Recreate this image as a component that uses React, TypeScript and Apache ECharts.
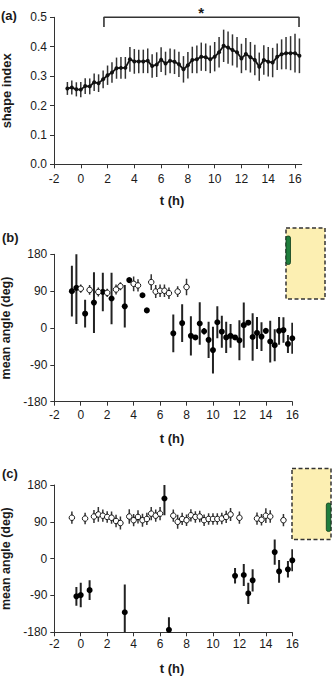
import React, { useEffect, useRef } from "react";
import * as echarts from "echarts";

// ---------- data ----------
const xTicks = [-2, 0, 2, 4, 6, 8, 10, 12, 14, 16];

// (a) shape index over time
const shapeT = [-1, -0.67, -0.33, 0, 0.33, 0.67, 1, 1.33, 1.67, 2, 2.33, 2.67, 3, 3.33, 3.67, 4, 4.33, 4.67, 5, 5.33, 5.67, 6, 6.33, 6.67, 7, 7.33, 7.67, 8, 8.33, 8.67, 9, 9.33, 9.67, 10, 10.33, 10.67, 11, 11.33, 11.67, 12, 12.33, 12.67, 13, 13.33, 13.67, 14, 14.33, 14.67, 15, 15.33, 15.67, 16, 16.33];
const shapeMean = [0.258, 0.261, 0.255, 0.254, 0.266, 0.265, 0.279, 0.276, 0.289, 0.303, 0.312, 0.327, 0.328, 0.328, 0.357, 0.35, 0.35, 0.35, 0.352, 0.334, 0.339, 0.356, 0.343, 0.352, 0.349, 0.34, 0.323, 0.337, 0.355, 0.357, 0.366, 0.364, 0.357, 0.366, 0.381, 0.403, 0.397, 0.389, 0.381, 0.36, 0.375, 0.364, 0.355, 0.332, 0.355, 0.349, 0.346, 0.366, 0.374, 0.378, 0.378, 0.378, 0.369];
const shapeErr = [0.022, 0.024, 0.024, 0.026, 0.027, 0.027, 0.03, 0.03, 0.03, 0.033, 0.035, 0.036, 0.037, 0.037, 0.042, 0.042, 0.04, 0.04, 0.042, 0.04, 0.042, 0.042, 0.04, 0.042, 0.042, 0.043, 0.045, 0.045, 0.045, 0.047, 0.048, 0.047, 0.047, 0.05, 0.052, 0.055, 0.055, 0.053, 0.052, 0.05, 0.055, 0.052, 0.052, 0.048, 0.05, 0.05, 0.05, 0.045, 0.051, 0.055, 0.058, 0.066, 0.059];
const bracketT = [1.73, 16.3];
const bracketY = [0.467, 0.5];

// (b) mean angle, filled and open
const bFilledT = [-0.67, -0.33, 0.33, 1.0, 1.67, 2.33, 3.33, 3.67, 4.67, 5.0, 7.0, 7.67, 8.33, 8.67, 9.0, 9.33, 9.67, 10.0, 10.33, 10.67, 11.0, 11.33, 11.67, 12.0, 12.33, 12.67, 13.0, 13.33, 13.67, 14.0, 14.33, 14.67, 15.0, 15.33, 15.67, 16.0];
const bFilledMean = [90, 98, 35, 62, 88, 72, 53, 117, 80, 43, -13, 12, -19, -23, 11, -8, -29, -54, 14, -9, -23, -19, -23, -30, 7, 13, -22, -12, -21, -7, -33, -42, -7, -5, -39, -25];
const bFilledErr = [62, 88, 34, 74, 47, 63, 52, 3, 4, 3, 46, 46, 48, 4, 52, 8, 44, 57, 39, 39, 38, 29, 4, 49, 55, 4, 58, 39, 35, 4, 51, 39, 34, 31, 22, 38];
const bOpenT = [0.0, 0.67, 1.33, 2.0, 2.67, 3.0, 4.0, 4.33, 5.33, 5.67, 6.0, 6.33, 6.67, 7.33, 8.0];
const bOpenMean = [96, 93, 88, 86, 94, 102, 108, 104, 112, 89, 91, 91, 85, 89, 100];
const bOpenErr = [10, 12, 11, 10, 12, 10, 18, 15, 19, 16, 15, 15, 14, 13, 20];

// (c) mean angle, filled and open
const cFilledT = [-0.33, 0.0, 0.67, 3.33, 6.33, 6.67, 11.67, 12.33, 12.67, 13.0, 14.67, 15.0, 15.67, 16.0];
const cFilledMean = [-92, -89, -77, -131, 147, -174, -42, -40, -85, -53, 16, -31, -26, -4];
const cFilledErr = [23, 30, 24, 68, 41, 31, 19, 27, 26, 27, 31, 28, 20, 27];
const cOpenT = [-0.67, 0.33, 1.0, 1.33, 1.67, 2.0, 2.33, 2.67, 3.0, 3.67, 4.0, 4.33, 4.67, 5.0, 5.33, 5.67, 6.0, 7.0, 7.33, 7.67, 8.0, 8.33, 8.67, 9.0, 9.33, 9.67, 10.0, 10.33, 10.67, 11.0, 11.33, 12.0, 13.33, 13.67, 14.0, 14.33, 15.33];
const cOpenMean = [100, 98, 103, 108, 105, 102, 100, 92, 87, 103, 94, 102, 94, 97, 110, 105, 110, 105, 90, 97, 94, 106, 102, 103, 94, 97, 97, 97, 98, 102, 108, 100, 98, 95, 105, 103, 94];
const cOpenErr = [15, 14, 16, 18, 15, 14, 15, 15, 16, 18, 15, 16, 16, 15, 16, 15, 16, 15, 17, 15, 14, 15, 14, 14, 14, 14, 14, 14, 14, 15, 16, 15, 15, 14, 18, 15, 15];

// ---------- layout ----------
const FONT = "'Liberation Sans', Arial, Helvetica, sans-serif";
const TXT = "#1a1a1a";
const AX = "#333";

const gridA = { left: 54, top: 17.3, width: 247.7, height: 147 };
const gridB = { left: 54.3, top: 254.3, width: 238, height: 147.4 };
const gridC = { left: 54.3, top: 485, width: 238, height: 147.3 };
const xMaxA = 16.5;

function zip3(t: number[], m: number[], e: number[]) {
  return t.map((v, i) => [v, m[i], e[i]]);
}

function errBar(color: string, width: number) {
  return (params: any, api: any) => {
    const x = api.value(0);
    const m = api.value(1);
    const e = api.value(2);
    const p1 = api.coord([x, m - e]);
    const p2 = api.coord([x, m + e]);
    return {
      type: "line",
      shape: { x1: p1[0], y1: p1[1], x2: p2[0], y2: p2[1] },
      style: { stroke: color, lineWidth: width },
    };
  };
}

function xAxisCfg(gridIndex: number, max: number, margin: number) {
  return {
    type: "value",
    gridIndex,
    min: -2,
    max,
    interval: 2,
    splitLine: { show: false },
    axisLine: { show: true, onZero: false, lineStyle: { color: AX, width: 1 } },
    axisTick: { show: true, length: 4, lineStyle: { color: AX }, customValues: xTicks },
    axisLabel: { color: TXT, fontSize: 12, fontFamily: FONT, margin, customValues: xTicks },
  };
}

function yAxisCfg(gridIndex: number, min: number, max: number, interval: number, name: string, gap: number, size: number, fmt: (v: number) => string) {
  return {
    type: "value",
    gridIndex,
    min,
    max,
    interval,
    name,
    nameLocation: "middle",
    nameGap: gap,
    nameTextStyle: { color: TXT, fontSize: size, fontWeight: "bold", fontFamily: FONT },
    splitLine: { show: false },
    axisLine: { show: true, onZero: false, lineStyle: { color: AX, width: 1 } },
    axisTick: { show: true, length: 4, lineStyle: { color: AX } },
    axisLabel: { color: TXT, fontSize: 12, fontFamily: FONT, margin: 7, formatter: fmt },
  };
}

function xPixA(t: number) {
  return gridA.left + ((t + 2) / (xMaxA + 2)) * gridA.width;
}

export default function App() {
  const ref = useRef<HTMLDivElement>(null);
  useEffect(() => {
    if (!ref.current) return;
    const chart = echarts.init(ref.current, undefined, { renderer: "svg" });
    const label = (text: string, x: number, y: number, align = "left") => ({
      type: "text",
      x,
      y,
      style: { text, fill: TXT, font: `bold 13px ${FONT}`, textAlign: align, textVerticalAlign: "middle" },
    });
    const option: any = {
      animation: false,
      backgroundColor: "#fff",
      grid: [
        { ...gridA, containLabel: false, outerBoundsMode: "none" },
        { ...gridB, containLabel: false, outerBoundsMode: "none" },
        { ...gridC, containLabel: false, outerBoundsMode: "none" },
      ],
      xAxis: [xAxisCfg(0, xMaxA, 9), xAxisCfg(1, 16, 7), xAxisCfg(2, 16, 6)],
      yAxis: [
        yAxisCfg(0, 0, 0.5, 0.1, "shape index", 41, 13, (v: number) => v.toFixed(1)),
        yAxisCfg(1, -180, 180, 90, "mean angle (deg)", 37, 12.5, (v: number) => String(v)),
        yAxisCfg(2, -180, 180, 90, "mean angle (deg)", 37, 12.5, (v: number) => String(v)),
      ],
      series: [
        // (a)
        {
          type: "custom",
          xAxisIndex: 0,
          yAxisIndex: 0,
          renderItem: errBar("#333", 1.5),
          data: zip3(shapeT, shapeMean, shapeErr),
          encode: { x: 0, y: 1 },
          z: 2,
          silent: true,
        },
        {
          type: "line",
          xAxisIndex: 0,
          yAxisIndex: 0,
          data: shapeT.map((t, i) => [t, shapeMean[i]]),
          symbol: "circle",
          symbolSize: 4,
          showSymbol: true,
          itemStyle: { color: "#111" },
          lineStyle: { color: "#111", width: 1.8 },
          z: 3,
          silent: true,
        },
        {
          type: "line",
          xAxisIndex: 0,
          yAxisIndex: 0,
          data: [
            [bracketT[0], bracketY[0]],
            [bracketT[0], bracketY[1]],
            [bracketT[1], bracketY[1]],
            [bracketT[1], bracketY[0]],
          ],
          symbol: "none",
          clip: false,
          lineStyle: { color: "#333", width: 1.6 },
          z: 3,
          silent: true,
        },
        // (b)
        {
          type: "custom",
          xAxisIndex: 1,
          yAxisIndex: 1,
          renderItem: errBar("#222", 2),
          data: zip3(bFilledT, bFilledMean, bFilledErr),
          encode: { x: 0, y: 1 },
          clip: true,
          z: 2,
          silent: true,
        },
        {
          type: "custom",
          xAxisIndex: 1,
          yAxisIndex: 1,
          renderItem: errBar("#333", 1.5),
          data: zip3(bOpenT, bOpenMean, bOpenErr),
          encode: { x: 0, y: 1 },
          clip: true,
          z: 2,
          silent: true,
        },
        {
          type: "scatter",
          xAxisIndex: 1,
          yAxisIndex: 1,
          data: bFilledT.map((t, i) => [t, bFilledMean[i]]),
          symbol: "circle",
          symbolSize: 6,
          itemStyle: { color: "#000", opacity: 1 },
          z: 3,
          silent: true,
        },
        {
          type: "scatter",
          xAxisIndex: 1,
          yAxisIndex: 1,
          data: bOpenT.map((t, i) => [t, bOpenMean[i]]),
          symbol: "circle",
          symbolSize: 5.5,
          itemStyle: { color: "#fff", borderColor: "#111", borderWidth: 1, opacity: 1 },
          z: 3,
          silent: true,
        },
        // (c)
        {
          type: "custom",
          xAxisIndex: 2,
          yAxisIndex: 2,
          renderItem: errBar("#222", 2),
          data: zip3(cFilledT, cFilledMean, cFilledErr),
          encode: { x: 0, y: 1 },
          clip: true,
          z: 2,
          silent: true,
        },
        {
          type: "custom",
          xAxisIndex: 2,
          yAxisIndex: 2,
          renderItem: errBar("#333", 1.5),
          data: zip3(cOpenT, cOpenMean, cOpenErr),
          encode: { x: 0, y: 1 },
          clip: true,
          z: 2,
          silent: true,
        },
        {
          type: "scatter",
          xAxisIndex: 2,
          yAxisIndex: 2,
          data: cFilledT.map((t, i) => [t, cFilledMean[i]]),
          symbol: "circle",
          symbolSize: 6,
          itemStyle: { color: "#000", opacity: 1 },
          z: 3,
          silent: true,
        },
        {
          type: "scatter",
          xAxisIndex: 2,
          yAxisIndex: 2,
          data: cOpenT.map((t, i) => [t, cOpenMean[i]]),
          symbol: "circle",
          symbolSize: 5.5,
          itemStyle: { color: "#fff", borderColor: "#111", borderWidth: 1, opacity: 1 },
          z: 3,
          silent: true,
        },
      ],
      graphic: [
        label("(a)", 1, 15),
        label("(b)", 2, 237),
        label("(c)", 2, 473),
        label("t (h)", 172, 200, "center"),
        label("t (h)", 172, 438, "center"),
        label("t (h)", 172, 668, "center"),
        {
          type: "text",
          x: xPixA(9),
          y: 12,
          style: { text: "*", fill: TXT, font: `bold 15px ${FONT}`, textAlign: "center", textVerticalAlign: "middle" },
        },
        // inset (b)
        {
          type: "rect",
          shape: { x: 286, y: 228, width: 39, height: 71 },
          style: { fill: "#fcefb2", stroke: "#333", lineWidth: 1.5, lineDash: [4, 2.5] },
        },
        {
          type: "rect",
          shape: { x: 286, y: 236, width: 4.5, height: 28.5, r: 2 },
          style: { fill: "#1f7d3c", stroke: "#0b3b1a", lineWidth: 0.8 },
        },
        // inset (c)
        {
          type: "rect",
          shape: { x: 292, y: 468.5, width: 39, height: 71 },
          style: { fill: "#fcefb2", stroke: "#333", lineWidth: 1.5, lineDash: [4, 2.5] },
        },
        {
          type: "rect",
          shape: { x: 326.3, y: 503, width: 4.5, height: 28.5, r: 2 },
          style: { fill: "#1f7d3c", stroke: "#0b3b1a", lineWidth: 0.8 },
        },
      ],
    };
    chart.setOption(option);
    return () => chart.dispose();
  }, []);
  return (
    <div
      ref={ref}
      style={{ position: "absolute", left: 0, top: 0, width: 336, height: 678, background: "#fff" }}
    />
  );
}
